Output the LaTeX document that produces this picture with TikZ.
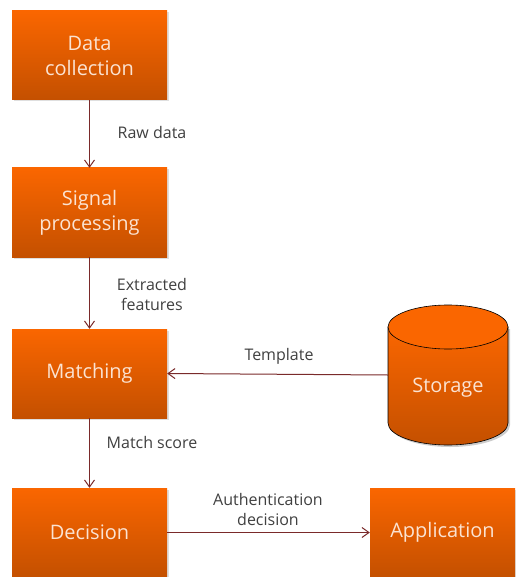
\documentclass[tikz,border=0pt]{standalone}
\usepackage{fontspec}
\setmainfont{Open Sans}
\usetikzlibrary{arrows.meta,shadows}
\definecolor{otop}{HTML}{FA6600}
\definecolor{obot}{HTML}{C45000}
\definecolor{arr}{HTML}{7A2A2A}
\definecolor{btxt}{HTML}{FBE3D2}
\definecolor{ltxt}{HTML}{404040}
\tikzset{
  box/.style={rectangle, minimum width=155pt, minimum height=89pt, inner sep=0pt,
    top color=otop, bottom color=obot, draw=none, text=btxt, align=center,
    font=\fontsize{20}{25}\selectfont,
    drop shadow={shadow xshift=1.5pt, shadow yshift=-1.5pt, opacity=0.25}},
  conn/.style={draw=arr, line width=1pt, -{Straight Barb[length=7pt,width=10pt]}},
  lbl/.style={text=ltxt, align=center, font=\fontsize{16}{20}\selectfont, inner sep=0pt},
}
\begin{document}
\begin{tikzpicture}[x=1pt,y=-1pt]
\useasboundingbox (0,0) rectangle (515,577);
\node[box] (data) at (89.5,55.5) {Data\\collection};
\node[box] (sig) at (89.5,212.5) {Signal\\processing};
\node[box] (match) at (89.5,373.5) {Matching};
\node[box] (dec) at (89.5,532.5) {Decision};
\node[box, minimum width=145pt] (app) at (442.5,532.5) {Application};
% storage cylinder
\fill[black, opacity=0.2] (390,329) -- (390,425) arc[start angle=180,end angle=0,x radius=60,y radius=22] -- (510,329) -- cycle;
\path[top color=otop, bottom color=obot, draw=black, line width=0.6pt]
  (388,327) -- (388,423) arc[start angle=180,end angle=0,x radius=60,y radius=22] -- (508,327) -- cycle;
\draw[fill=otop, draw=black, line width=0.6pt] (448,327) ellipse[x radius=60, y radius=22];
\node[rectangle, minimum width=120pt, minimum height=140pt, inner sep=0pt] (stor) at (448,375) {};
\node[text=btxt, font=\fontsize{20}{25}\selectfont] at (448,388) {Storage};
% connectors
\draw[conn] (data) -- (sig);
\draw[conn] (sig) -- (match);
\draw[conn] (match) -- (dec);
\draw[conn] (stor.west) -- (match.east);
\draw[conn] (dec) -- (app);
% labels
\node[lbl] at (152,133) {Raw data};
\node[lbl] at (152,294) {Extracted\\features};
\node[lbl] at (279,356) {Template};
\node[lbl] at (152,442) {Match score};
\node[lbl] at (268,509) {Authentication\\decision};
\end{tikzpicture}
\end{document}
